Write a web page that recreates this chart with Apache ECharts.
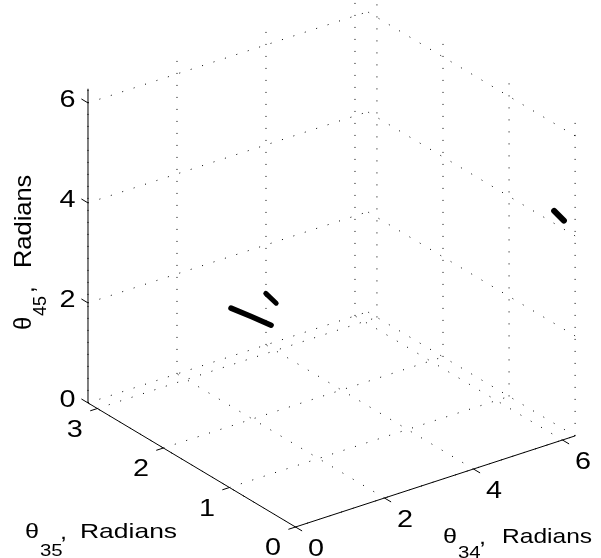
<!DOCTYPE html>
<html>
<head>
<meta charset="utf-8">
<script src="https://cdn.jsdelivr.net/npm/echarts@6/dist/echarts.min.js"></script>
<style>
  html, body { margin: 0; padding: 0; background: #fff; }
  #chart { width: 601px; height: 558px; }
</style>
</head>
<body>
<div id="chart"></div>
<script>
// axis limits and ticks (radians)
var lim34 = [0, 2 * Math.PI];
var lim35 = [0, Math.PI];
var lim45 = [0, 2 * Math.PI];
var ticks34 = [0, 2, 4, 6];
var ticks35 = [0, 1, 2, 3];
var ticks45 = [0, 2, 4, 6];

// the three point clusters (theta34, theta35, theta45)
var t34A = [1.20, 1.35, 1.50];
var t35A = [1.785, 1.58, 1.38];
var t45A = [2.62, 2.57, 2.51];

var t34B = [1.90, 2.00];
var t35B = [1.73, 1.64];
var t45B = [2.755, 2.60];

var t34C = [6.05, 6.15];
var t35C = [0.16, 0.08];
var t45C = [4.44, 4.28];

// view: screen vectors of one unit along each data axis
var ex = [44.5, 14.5], ey = [-66.05, 39.5], ez = [0, 50];
function proj(a, b, c) {
  return [ex[0] * a + ey[0] * b + ez[0] * c, ex[1] * a + ey[1] * b + ez[1] * c];
}

var FONT = "'Liberation Sans', Arial, sans-serif";

function txt(x, y, s, size, align, sx) {
  return {
    type: 'text', x: x, y: y, scaleX: sx || 1,
    style: {
      text: s, font: size + 'px ' + FONT, fill: '#000',
      align: align, textAlign: align, verticalAlign: 'middle', textVerticalAlign: 'middle'
    }
  };
}

function renderFrame(params, api) {
  var kids = [];
  function pt(a, b, c) { return api.coord(proj(a, b, c)); }
  function seg(p, q, st) {
    kids.push({ type: 'line', shape: { x1: p[0], y1: p[1], x2: q[0], y2: q[1] }, style: st });
  }
  var dotted = { stroke: '#000', lineWidth: 1, lineDash: [1, 11] };
  var solid = { stroke: '#000', lineWidth: 1 };
  var x0 = lim34[0], x1 = lim34[1], y0 = lim35[0], y1 = lim35[1], z0 = lim45[0], z1 = lim45[1];

  // floor
  ticks34.forEach(function (x) { seg(pt(x, y0, z0), pt(x, y1, z0), dotted); });
  ticks35.forEach(function (y) { seg(pt(x0, y, z0), pt(x1, y, z0), dotted); });
  // back wall (theta35 = max)
  ticks34.forEach(function (x) { seg(pt(x, y1, z0), pt(x, y1, z1), dotted); });
  ticks45.forEach(function (z) { seg(pt(x0, y1, z), pt(x1, y1, z), dotted); });
  // side wall (theta34 = max)
  ticks35.forEach(function (y) { seg(pt(x1, y, z0), pt(x1, y, z1), dotted); });
  ticks45.forEach(function (z) { seg(pt(x1, y0, z), pt(x1, y1, z), dotted); });

  // axis lines
  seg(pt(x0, y0, z0), pt(x1, y0, z0), solid);
  seg(pt(x0, y0, z0), pt(x0, y1, z0), solid);
  seg(pt(x0, y1, z0), pt(x0, y1, z1), solid);

  // ticks + labels
  ticks34.forEach(function (x) {
    var p = pt(x, y0, z0);
    seg(p, pt(x, y0 - 0.1, z0), solid);
    kids.push(txt(p[0] + 20.5, p[1] + 22.5, String(x), 24, 'center', 1.2));
  });
  ticks35.forEach(function (y) {
    var p = pt(x0, y, z0);
    seg(p, pt(x0 - 0.16, y, z0), solid);
    kids.push(txt(p[0] - 22.5, p[1] + 21.5, String(y), 24, 'center', 1.2));
  });
  ticks45.forEach(function (z) {
    var p = pt(x0, y1, z);
    seg(p, pt(x0, y1 + 0.1, z), solid);
    kids.push(txt(p[0] - 12.5, p[1] - 3, String(z), 24, 'right', 1.2));
  });
  return { type: 'group', children: kids };
}

function cluster(xs, ys, zs) {
  return xs.map(function (v, i) { return proj(v, ys[i], zs[i]); });
}
function dataLine(name, xs, ys, zs, w) {
  return {
    name: name, type: 'line', data: cluster(xs, ys, zs), symbol: 'none', silent: true, z: 3,
    lineStyle: { color: '#000', width: w, cap: 'round', join: 'round' }
  };
}

var chart = echarts.init(document.getElementById('chart'), null, { renderer: 'canvas' });
chart.setOption({
  animation: false,
  backgroundColor: '#fff',
  grid: { left: 0, top: 0, right: 0, bottom: 0 },
  xAxis: { type: 'value', min: -295.5, max: 305.5, show: false },
  yAxis: { type: 'value', min: -31, max: 527, show: false },
  series: [
    { type: 'custom', coordinateSystem: 'cartesian2d', data: [[0, 0]], renderItem: renderFrame, silent: true, clip: false, z: 1 },
    dataLine('A', t34A, t35A, t45A, 5.5),
    dataLine('B', t34B, t35B, t45B, 5),
    dataLine('C', t34C, t35C, t45C, 6)
  ],
  graphic: {
    elements: [
      // theta34, Radians
      txt(443, 537.7, 'θ', 21, 'left', 1.2),
      txt(458, 553, '34', 17, 'left', 1.2),
      txt(479, 538.7, ',', 21, 'left', 1.2),
      txt(502, 537.7, 'Radians', 21, 'left', 1.17),
      // theta35, Radians
      txt(25, 532.7, 'θ', 21, 'left', 1.2),
      txt(40, 551, '35', 17, 'left', 1.2),
      txt(60, 533.7, ',', 21, 'left', 1.2),
      txt(80, 532.2, 'Radians', 21, 'left', 1.26),
      // theta45, Radians (rotated)
      {
        type: 'group', x: 33, y: 330, rotation: Math.PI / 2,
        children: [
          txt(0, -8.3, 'θ', 24, 'left'),
          txt(14, 7.8, '45', 18, 'left'),
          txt(37, -5.3, ',', 24, 'left'),
          txt(62, -8.3, 'Radians', 24, 'left', 1.06)
        ]
      }
    ]
  }
});
</script>
</body>
</html>
